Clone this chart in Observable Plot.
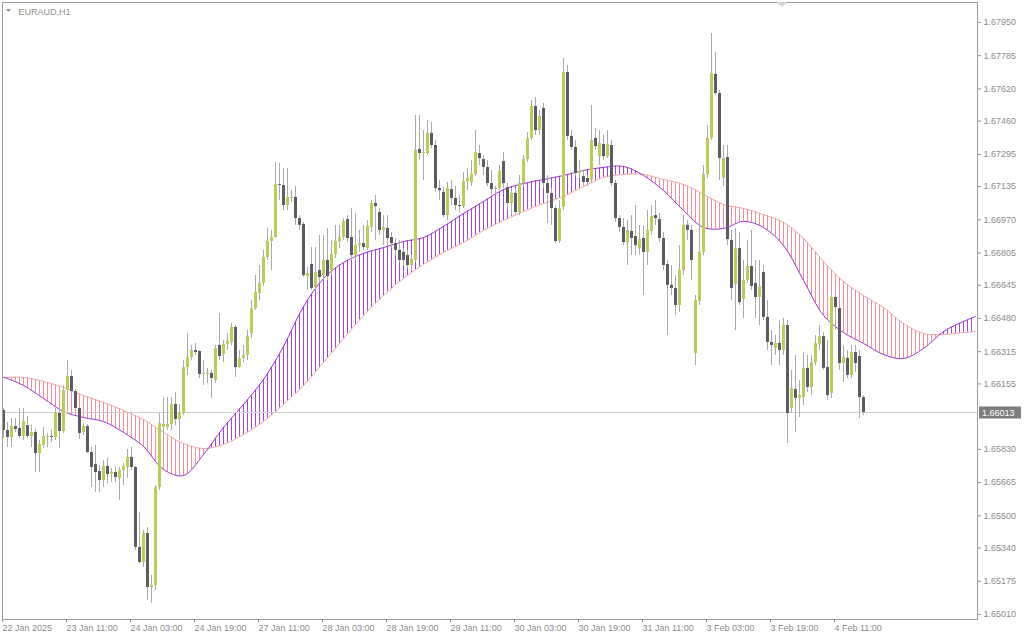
<!DOCTYPE html>
<html><head><meta charset="utf-8">
<script src="https://cdn.jsdelivr.net/npm/d3@7"></script>
<script src="https://cdn.jsdelivr.net/npm/@observablehq/plot@0.6"></script>
<style>html,body{margin:0;padding:0;background:#fff;overflow:hidden}</style>
</head><body><div id="chart"></div>
<script>
const symbol = "EURAUD,H1";
const lastPrice = 1.66013;

const opens = [1.66023,1.65924,1.65889,1.65943,1.65934,1.65894,1.65948,1.65894,1.65914,1.65809,1.65849,1.65889,1.65894,1.65889,1.66008,1.65919,1.66122,1.66192,1.66117,1.66033,1.65914,1.65943,1.65814,1.65755,1.65720,1.65675,1.65745,1.65705,1.65715,1.65685,1.65725,1.65740,1.65790,1.65740,1.65343,1.65268,1.65412,1.65144,1.65154,1.65641,1.65939,1.65939,1.65953,1.66053,1.65978,1.66008,1.66236,1.66286,1.66321,1.66316,1.66202,1.66202,1.66207,1.66172,1.66346,1.66301,1.66351,1.66361,1.66435,1.66236,1.66281,1.66296,1.66405,1.66529,1.66604,1.66654,1.66783,1.66862,1.66882,1.67145,1.67140,1.67041,1.67076,1.67081,1.66976,1.66947,1.66688,1.66748,1.66634,1.66718,1.66693,1.66768,1.66718,1.66798,1.66862,1.66882,1.66971,1.66882,1.66793,1.66842,1.66852,1.66827,1.66932,1.67051,1.67006,1.66917,1.66927,1.66882,1.66852,1.66818,1.66808,1.66793,1.66743,1.66768,1.67319,1.67299,1.67299,1.67399,1.67339,1.67125,1.67106,1.66991,1.67120,1.67076,1.67041,1.67036,1.67160,1.67155,1.67195,1.67299,1.67269,1.67230,1.67150,1.67120,1.67125,1.67259,1.67130,1.67051,1.67101,1.67006,1.67150,1.67269,1.67374,1.67533,1.67413,1.67523,1.67150,1.67101,1.67026,1.66862,1.67031,1.67701,1.67384,1.67329,1.67200,1.67185,1.67175,1.67165,1.67374,1.67284,1.67344,1.67284,1.67339,1.67150,1.66976,1.66932,1.66857,1.66912,1.66887,1.66827,1.66877,1.66808,1.66912,1.66991,1.66971,1.66877,1.66748,1.66644,1.66629,1.66544,1.66718,1.66942,1.66917,1.66306,1.66564,1.66808,1.67195,1.67374,1.67692,1.67597,1.67175,1.67279,1.66867,1.66649,1.66827,1.66574,1.66669,1.66738,1.66654,1.66584,1.66708,1.66485,1.66361,1.66331,1.66356,1.66321,1.66445,1.66033,1.66127,1.66083,1.66087,1.66232,1.66137,1.66261,1.66351,1.66390,1.66236,1.66107,1.66584,1.66529,1.66256,1.66281,1.66197,1.66311,1.66291,1.66087];
const highs = [1.66033,1.65963,1.65983,1.65983,1.66033,1.66033,1.65993,1.65948,1.65929,1.65874,1.65939,1.65909,1.65924,1.66033,1.66033,1.66147,1.66271,1.66222,1.66127,1.66038,1.65958,1.65953,1.65839,1.65849,1.65750,1.65775,1.65785,1.65735,1.65740,1.65740,1.65760,1.65829,1.65839,1.65745,1.65516,1.65427,1.65442,1.65204,1.65650,1.66008,1.66087,1.66087,1.66087,1.66112,1.66053,1.66271,1.66405,1.66346,1.66356,1.66321,1.66271,1.66232,1.66222,1.66346,1.66505,1.66371,1.66405,1.66455,1.66445,1.66321,1.66346,1.66420,1.66569,1.66693,1.66743,1.66818,1.66927,1.66917,1.67255,1.67250,1.67225,1.67225,1.67115,1.67135,1.66991,1.66957,1.66733,1.66832,1.66832,1.66892,1.66892,1.66927,1.66867,1.66942,1.66942,1.66976,1.66991,1.67026,1.67001,1.66917,1.66942,1.66966,1.67066,1.67091,1.67026,1.66991,1.66991,1.66907,1.66877,1.66867,1.66827,1.66818,1.66793,1.67488,1.67488,1.67413,1.67463,1.67453,1.67364,1.67165,1.67130,1.67155,1.67165,1.67135,1.67091,1.67205,1.67225,1.67264,1.67413,1.67339,1.67289,1.67264,1.67215,1.67135,1.67240,1.67304,1.67150,1.67125,1.67125,1.67190,1.67289,1.67403,1.67562,1.67577,1.67513,1.67548,1.67190,1.67125,1.67041,1.67066,1.67771,1.67736,1.67413,1.67364,1.67264,1.67215,1.67190,1.67538,1.67423,1.67413,1.67389,1.67413,1.67364,1.67165,1.66991,1.66976,1.66966,1.66991,1.67041,1.66942,1.66942,1.67016,1.67041,1.67066,1.67001,1.66907,1.66768,1.66743,1.66693,1.66842,1.66991,1.66966,1.66942,1.66594,1.66957,1.67240,1.67438,1.67895,1.67801,1.67612,1.67339,1.67339,1.66917,1.66927,1.66907,1.66768,1.66867,1.66917,1.66768,1.66768,1.66743,1.66569,1.66420,1.66395,1.66470,1.66480,1.66470,1.66222,1.66296,1.66172,1.66311,1.66296,1.66296,1.66395,1.66445,1.66410,1.66371,1.66604,1.66619,1.66544,1.66346,1.66321,1.66346,1.66346,1.66321,1.66097];
const lows = [1.65884,1.65839,1.65839,1.65914,1.65884,1.65874,1.65884,1.65839,1.65715,1.65715,1.65834,1.65839,1.65864,1.65874,1.65834,1.65909,1.66112,1.66107,1.66028,1.65879,1.65899,1.65809,1.65641,1.65616,1.65616,1.65641,1.65660,1.65665,1.65665,1.65576,1.65650,1.65685,1.65725,1.65328,1.65263,1.65243,1.65079,1.65065,1.65129,1.65626,1.65889,1.65924,1.65924,1.65948,1.65874,1.65998,1.66197,1.66271,1.66296,1.66182,1.66147,1.66157,1.66083,1.66157,1.66271,1.66261,1.66321,1.66346,1.66187,1.66232,1.66261,1.66271,1.66380,1.66520,1.66569,1.66639,1.66768,1.66718,1.66877,1.67066,1.67016,1.67016,1.67056,1.66942,1.66917,1.66683,1.66619,1.66619,1.66619,1.66659,1.66669,1.66669,1.66693,1.66778,1.66827,1.66867,1.66857,1.66768,1.66768,1.66808,1.66818,1.66818,1.66907,1.66867,1.66892,1.66842,1.66842,1.66827,1.66793,1.66758,1.66743,1.66728,1.66718,1.66758,1.67264,1.67165,1.67289,1.67324,1.67106,1.67066,1.66981,1.66966,1.67041,1.67016,1.67006,1.67026,1.67115,1.67135,1.67185,1.67240,1.67190,1.67135,1.67091,1.67091,1.67115,1.67125,1.67016,1.66991,1.66991,1.66991,1.67135,1.67255,1.67364,1.67389,1.67389,1.67125,1.66952,1.66942,1.66852,1.66852,1.67016,1.67364,1.67314,1.67185,1.67175,1.67135,1.67135,1.67150,1.67314,1.67240,1.67264,1.67274,1.67135,1.66957,1.66907,1.66842,1.66743,1.66793,1.66793,1.66793,1.66594,1.66743,1.66892,1.66942,1.66857,1.66718,1.66395,1.66594,1.66495,1.66510,1.66693,1.66867,1.66669,1.66246,1.66544,1.66793,1.67175,1.67364,1.67587,1.67165,1.67135,1.66842,1.66569,1.66420,1.66544,1.66480,1.66654,1.66619,1.66480,1.66445,1.66470,1.66321,1.66246,1.66296,1.66246,1.66296,1.65859,1.66008,1.65914,1.65988,1.66048,1.66112,1.66097,1.66246,1.66321,1.66222,1.66073,1.66083,1.66420,1.66222,1.66162,1.66182,1.66182,1.66212,1.65983,1.65998];
const closes = [1.65924,1.65889,1.65943,1.65929,1.65894,1.65968,1.65894,1.65914,1.65809,1.65854,1.65894,1.65894,1.65889,1.66008,1.65919,1.66122,1.66192,1.66117,1.66033,1.65909,1.65943,1.65814,1.65740,1.65715,1.65675,1.65745,1.65705,1.65715,1.65690,1.65725,1.65745,1.65790,1.65740,1.65343,1.65268,1.65412,1.65144,1.65154,1.65641,1.65958,1.65953,1.65953,1.66053,1.65978,1.66008,1.66236,1.66286,1.66321,1.66311,1.66202,1.66207,1.66207,1.66182,1.66331,1.66291,1.66351,1.66366,1.66435,1.66236,1.66281,1.66296,1.66390,1.66529,1.66609,1.66654,1.66783,1.66862,1.66882,1.67145,1.67140,1.67041,1.67081,1.67081,1.66976,1.66942,1.66693,1.66703,1.66629,1.66708,1.66683,1.66768,1.66688,1.66798,1.66862,1.66882,1.66962,1.66877,1.66793,1.66842,1.66852,1.66832,1.66937,1.67051,1.67036,1.66917,1.66932,1.66877,1.66852,1.66818,1.66768,1.66768,1.66743,1.66773,1.67314,1.67299,1.67304,1.67399,1.67339,1.67125,1.67115,1.66991,1.67125,1.67076,1.67041,1.67036,1.67160,1.67175,1.67195,1.67304,1.67274,1.67230,1.67150,1.67120,1.67125,1.67210,1.67150,1.67051,1.67101,1.67006,1.67150,1.67269,1.67374,1.67533,1.67413,1.67483,1.67150,1.67101,1.67026,1.66862,1.67026,1.67701,1.67384,1.67329,1.67200,1.67210,1.67155,1.67155,1.67364,1.67334,1.67349,1.67284,1.67344,1.67150,1.66976,1.66932,1.66857,1.66917,1.66877,1.66842,1.66872,1.66808,1.66917,1.66986,1.66976,1.66877,1.66743,1.66644,1.66629,1.66544,1.66718,1.66942,1.66917,1.66768,1.66569,1.66808,1.67195,1.67374,1.67696,1.67597,1.67274,1.67274,1.66872,1.66629,1.66827,1.66559,1.66669,1.66738,1.66639,1.66584,1.66639,1.66485,1.66361,1.66346,1.66356,1.66321,1.66445,1.66008,1.66132,1.66083,1.66097,1.66232,1.66137,1.66261,1.66356,1.66390,1.66232,1.66097,1.66584,1.66534,1.66256,1.66286,1.66197,1.66311,1.66256,1.66087,1.66013];

// shifted averages (bar positions include the forward shift)
const maBars = [-1,0,5,10,15,20,25,30,35,40,45,50,55,60,65,70,75,80,85,90,95,100,105,110,115,120,125,130,135,140,145,150,155,160,165,170,175,180,185,190,195,200,205,210,215,220,225,230,235,240,243];
const maFast = [1.66187,1.66187,1.66147,1.66083,1.66018,1.65988,1.65968,1.65914,1.65844,1.65730,1.65700,1.65804,1.65939,1.66053,1.66177,1.66341,1.66539,1.66678,1.66758,1.66803,1.66832,1.66862,1.66882,1.66937,1.67001,1.67061,1.67120,1.67150,1.67170,1.67190,1.67215,1.67230,1.67235,1.67190,1.67115,1.67016,1.66932,1.66927,1.66962,1.66932,1.66842,1.66669,1.66495,1.66410,1.66356,1.66301,1.66281,1.66331,1.66415,1.66465,1.66490];
const maSlow = [1.66187,1.66187,1.66187,1.66167,1.66137,1.66097,1.66063,1.66023,1.65978,1.65914,1.65859,1.65834,1.65854,1.65904,1.65968,1.66053,1.66147,1.66261,1.66380,1.66495,1.66594,1.66678,1.66748,1.66808,1.66857,1.66917,1.66966,1.67011,1.67051,1.67086,1.67135,1.67180,1.67195,1.67195,1.67170,1.67145,1.67096,1.67046,1.67026,1.66996,1.66957,1.66877,1.66763,1.66664,1.66594,1.66534,1.66455,1.66405,1.66400,1.66410,1.66415];

const yTicks = [1.65010,1.65175,1.65340,1.65500,1.65665,1.65830,1.66155,1.66315,1.66480,1.66645,1.66805,1.66970,1.67135,1.67295,1.67460,1.67620,1.67785,1.67950];
const xTickBars = [0,16,32,48,64,80,96,112,128,144,160,176,192,208];
const xTickLabels = ["22 Jan 2025","23 Jan 11:00","24 Jan 03:00","24 Jan 19:00","27 Jan 11:00","28 Jan 03:00","28 Jan 19:00","29 Jan 11:00","30 Jan 03:00","30 Jan 19:00","31 Jan 11:00","3 Feb 03:00","3 Feb 19:00","4 Feb 11:00"];

const bull = "#bccb5a", bear = "#5f5b64", wick = "#a9a9a9";
const purple = "#9a35cc", purpleHatch = "#a345e6", pinkLine = "#f2a4a4", pinkHatch = "#f58e94";
const axisColor = "#8c8c8c";

const bars = opens.map((o, i) => ({i, o, h: highs[i], l: lows[i], c: closes[i], up: closes[i] >= o}));
const ma = maBars.map((b, k) => ({b, f: maFast[k], s: maSlow[k]}));

const frameOpts = {
  width: 1024, height: 640,
  marginLeft: 2, marginRight: 47, marginTop: 2, marginBottom: 21,
  x: {domain: [-0.25, 243.5]},
  y: {domain: [1.64985, 1.68049]}
};
const fastLine = () => Plot.line(ma, {x: "b", y: "f", stroke: purple, strokeWidth: 1, curve: "catmull-rom", clip: true});
const slowLine = () => Plot.line(ma, {x: "b", y: "s", stroke: pinkLine, strokeWidth: 1, curve: "catmull-rom", clip: true});

// probe render: read the library's smoothed curves at each bar position
function strokeOf(el, root) {
  while (el && el !== root) {
    const s = el.getAttribute && el.getAttribute("stroke");
    if (s) return s.toLowerCase();
    el = el.parentNode;
  }
  return null;
}
function findPath(root, color) {
  for (const p of root.querySelectorAll("path")) if (strokeOf(p, root) === color.toLowerCase()) return p;
  return null;
}
function curveSampler(path) {
  const len = path.getTotalLength();
  const pts = [];
  for (let s = 0; s <= len; s += 0.5) { const p = path.getPointAtLength(s); pts.push([p.x, p.y]); }
  pts.sort((a, b) => a[0] - b[0]);
  const xsArr = pts.map(p => p[0]);
  return x => {
    if (x < xsArr[0] || x > xsArr[xsArr.length - 1]) return null;
    const k = d3.bisectLeft(xsArr, x);
    if (k <= 0) return pts[0][1];
    const a = pts[k - 1], b = pts[k];
    const t = b[0] === a[0] ? 0 : (x - a[0]) / (b[0] - a[0]);
    return a[1] + t * (b[1] - a[1]);
  };
}
const probe = Plot.plot({...frameOpts, marks: [slowLine(), fastLine()]});
probe.style.position = "absolute"; probe.style.left = "0"; probe.style.top = "0"; probe.style.visibility = "hidden";
document.body.appendChild(probe);
const hatch = [];
{
  const fp = findPath(probe, purple), sp = findPath(probe, pinkLine);
  if (fp && sp) {
    const fY = curveSampler(fp), sY = curveSampler(sp);
    const px = probe.scale("x"), py = probe.scale("y");
    for (let i = 0; i <= 243; i++) {
      const x = px.apply(i);
      const a = fY(x), b = sY(x);
      if (a == null || b == null || Math.abs(a - b) < 0.6) continue;
      hatch.push({i, f: py.invert(a), s: py.invert(b), up: a < b});
    }
  }
}
probe.remove();

const chart = Plot.plot({
  ...frameOpts,
  style: {background: "#fff", fontFamily: "'Liberation Sans', Arial, sans-serif", fontSize: "9px"},
  marks: [
    Plot.ruleX(hatch, {x: "i", y1: "f", y2: "s", stroke: d => d.up ? purpleHatch : pinkHatch, strokeWidth: 1}),
    slowLine(),
    fastLine(),
    Plot.ruleY([lastPrice], {stroke: "#cfcfcf"}),
    Plot.ruleX(bars, {x: "i", y1: "l", y2: "h", stroke: wick}),
    Plot.ruleX(bars, {x: "i", y1: "o", y2: "c", stroke: d => d.up ? bull : bear, strokeWidth: 3}),
    Plot.frame({stroke: "#9c9c9c"}),
    Plot.axisY(yTicks, {anchor: "right", tickSize: 3, tickPadding: 3, tickFormat: d => d.toFixed(5), color: axisColor, fontSize: 9}),
    Plot.axisX(xTickBars, {anchor: "bottom", tickSize: 3, tickPadding: 2, tickFormat: d => xTickLabels[xTickBars.indexOf(d)], textAnchor: "start", dx: -1, color: axisColor, fontSize: 9}),
    Plot.text([symbol], {frameAnchor: "top-left", dx: 16, dy: 6, textAnchor: "start", lineAnchor: "top", fill: "#8f8f8f", fontSize: 9})
  ]
});
document.getElementById("chart").appendChild(chart);

// current price label
const svg = d3.select(chart);
const yp = chart.scale("y").apply(lastPrice);
svg.append("rect").attr("x", 979).attr("y", yp - 5.5).attr("width", 42).attr("height", 12).attr("fill", "#7d7d7d");
svg.append("text").attr("x", 982).attr("y", yp + 0.5).attr("dy", "0.35em").attr("fill", "#ffffff")
  .attr("text-anchor", "start").attr("font-size", 9)
  .attr("font-family", "'Liberation Sans', Arial, sans-serif").text(lastPrice.toFixed(5));
// small chart markers
svg.append("path").attr("d", "M6,9L11,9L8.5,12Z").attr("fill", "#8f8f8f");
svg.append("path").attr("d", "M777,2L787,2L782,7Z").attr("fill", "#d4d4d4");
</script>
</body></html>
